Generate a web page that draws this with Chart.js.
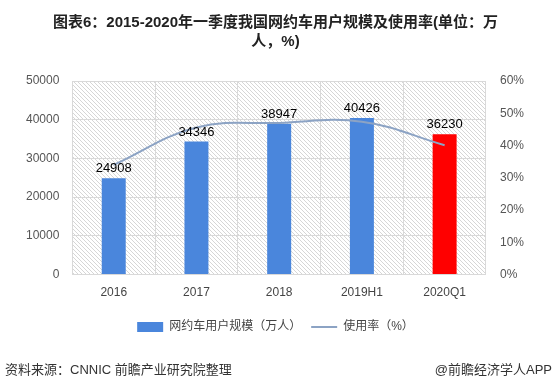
<!DOCTYPE html>
<html>
<head>
<meta charset="utf-8">
<script src="https://cdn.jsdelivr.net/npm/chart.js@4"></script>
<style>
  html, body { margin: 0; padding: 0; background: #fff; }
  #wrap { position: relative; width: 556px; height: 387px; }
  .foot { position: absolute; top: 359px; font: 13px "Liberation Sans", "Noto Sans CJK SC", sans-serif; color: #333; }
</style>
</head>
<body>
<div id="wrap">
  <canvas id="c" width="556" height="387"></canvas>
  <div class="foot" style="left:5px;">资料来源：CNNIC 前瞻产业研究院整理</div>
  <div class="foot" style="right:4px;">@前瞻经济学人APP</div>
</div>
<script>
  "use strict";

  const categories = ["2016", "2017", "2018", "2019H1", "2020Q1"];
  const users = [24908, 34346, 38947, 40426, 36230];
  const usageRate = [34.0, 45.6, 47.0, 47.4, 40.1];
  const barColors = ["#4a86dc", "#4a86dc", "#4a86dc", "#4a86dc", "#ff0000"];

  const FONT = '"Liberation Sans", "Noto Sans CJK SC", sans-serif';

  function makeHatch() {
    const p = document.createElement("canvas");
    p.width = 4;
    p.height = 4;
    const g = p.getContext("2d");
    g.strokeStyle = "#d6d6d6";
    g.lineWidth = 1;
    g.beginPath();
    g.moveTo(0, 0);
    g.lineTo(4, 4);
    g.moveTo(-1, 3);
    g.lineTo(1, 5);
    g.moveTo(3, -1);
    g.lineTo(5, 1);
    g.stroke();
    return g.createPattern(p, "repeat");
  }

  const hatchPlugin = {
    id: "hatch",
    beforeDraw(chart) {
      const a = chart.chartArea;
      const ctx = chart.ctx;
      ctx.save();
      ctx.fillStyle = makeHatch();
      ctx.fillRect(a.left, a.top, a.right - a.left, a.bottom - a.top);
      ctx.restore();
    },
  };

  const barLabels = {
    id: "barLabels",
    afterDatasetsDraw(chart) {
      const ctx = chart.ctx;
      const meta = chart.getDatasetMeta(1);
      ctx.save();
      ctx.font = "13px " + FONT;
      ctx.fillStyle = "#000";
      ctx.textAlign = "center";
      ctx.textBaseline = "bottom";
      meta.data.forEach(function (bar, i) {
        ctx.fillText(String(users[i]), bar.x, bar.y - 3);
      });
      ctx.restore();
    },
  };

  new Chart(document.getElementById("c"), {
    data: {
      labels: categories,
      datasets: [
        {
          type: "line",
          label: "使用率（%）",
          data: usageRate,
          yAxisID: "y1",
          borderColor: "#8ca3c4",
          backgroundColor: "#8ca3c4",
          borderWidth: 2,
          tension: 0.4,
          pointRadius: 0,
          pointStyle: "line",
          order: 0,
        },
        {
          type: "bar",
          label: "网约车用户规模（万人）",
          data: users,
          yAxisID: "y",
          backgroundColor: barColors,
          pointStyle: "rect",
          barPercentage: 0.58,
          categoryPercentage: 0.5,
          order: 1,
        },
      ],
    },
    options: {
      responsive: false,
      animation: false,
      layout: { padding: { left: 13, right: 18, top: 7, bottom: 44 } },
      plugins: {
        title: {
          display: true,
          text: ["图表6：2015-2020年一季度我国网约车用户规模及使用率(单位：万", "人，%)"],
          font: { family: FONT, size: 15, weight: "bold", lineHeight: 1.3 },
          color: "#222",
          padding: { top: 6, bottom: 29 },
        },
        legend: {
          position: "bottom",
          reverse: true,
          labels: {
            usePointStyle: true,
            pointStyleWidth: 26,
            boxHeight: 10,
            padding: 10,
            font: { family: FONT, size: 12 },
            color: "#444",
          },
        },
        tooltip: { enabled: false },
      },
      scales: {
        x: {
          grid: { color: "#d9d9d9", drawTicks: false, offset: true },
          border: { color: "#d9d9d9" },
          ticks: { font: { family: FONT, size: 12 }, color: "#444", padding: 11 },
        },
        y: {
          min: 0,
          max: 50000,
          ticks: {
            stepSize: 10000,
            font: { family: FONT, size: 12 },
            color: "#555",
            padding: 13,
            callback: function (v) { return String(v); },
          },
          grid: { color: "#d9d9d9", drawTicks: false },
          border: { color: "#d9d9d9" },
        },
        y1: {
          position: "right",
          min: 0,
          max: 60,
          ticks: {
            stepSize: 10,
            font: { family: FONT, size: 12 },
            color: "#555",
            padding: 14,
            callback: function (v) { return v + "%"; },
          },
          grid: { drawOnChartArea: false, drawTicks: false },
          border: { color: "#d9d9d9" },
        },
      },
    },
    plugins: [hatchPlugin, barLabels],
  });
</script>
</body>
</html>
